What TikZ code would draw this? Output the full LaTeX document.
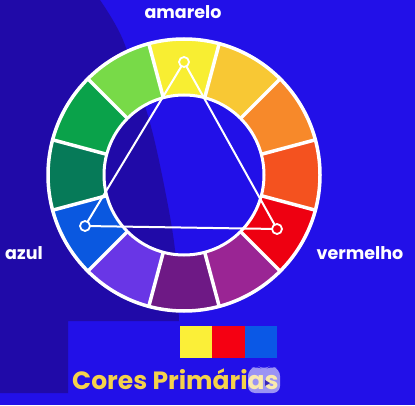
\documentclass[tikz,border=0pt]{standalone}
\usepackage{fontspec}
\setmainfont{Poppins}
\usetikzlibrary{calc}
\definecolor{bgbright}{RGB}{34,16,232}
\definecolor{bgdark}{RGB}{32,10,168}
\definecolor{cY}{HTML}{F8EE32}
\definecolor{cYO}{HTML}{F8C834}
\definecolor{cO}{HTML}{F7892A}
\definecolor{cRO}{HTML}{F4521F}
\definecolor{cR}{HTML}{EE0011}
\definecolor{cRV}{HTML}{9A2594}
\definecolor{cV}{HTML}{6E1985}
\definecolor{cBV}{HTML}{6936E6}
\definecolor{cB}{HTML}{0A58E0}
\definecolor{cBG}{HTML}{067A58}
\definecolor{cG}{HTML}{0AA24A}
\definecolor{cYG}{HTML}{78DA48}
\definecolor{titleyellow}{RGB}{245,210,75}
\definecolor{swY}{HTML}{FBEF38}
\definecolor{swR}{HTML}{F50012}
\definecolor{swB}{HTML}{0A58E6}
\tikzset{
  wlabel/.style={text=white, font=\bfseries\fontsize{17.5}{17.5}\selectfont, inner sep=0pt},
  vtx/.style={circle, draw=white, line width=1.8pt, minimum size=10pt, inner sep=0pt},
  sep/.style={white, line width=3.5pt},
  tri/.style={white, line width=2pt, line join=round},
}
\begin{document}
\begin{tikzpicture}[x=1pt,y=1pt]
\useasboundingbox (0,0) rectangle (415,405);
\fill[bgbright] (0,0) rectangle (415,405);
% darker backdrop on the left
\fill[bgdark] (0,405) -- plot[smooth] coordinates {(100,405) (123,365) (150,282) (165,215) (175,155) (179,84)} -- (68,84) -- (68,12) -- (0,12) -- cycle;
% wheel
\coordinate (C) at (184,230);
\foreach \i/\col in {0/cY,1/cYO,2/cO,3/cRO,4/cR,5/cRV,6/cV,7/cBV,8/cB,9/cBG,10/cG,11/cYG}{
  \pgfmathsetmacro{\a}{90-30*\i}
  \pgfmathsetmacro{\s}{\a-15}
  \pgfmathsetmacro{\e}{\a+15}
  \fill[\col] ($(C)+(\s:80)$) -- ($(C)+(\s:137)$) arc[start angle=\s, end angle=\e, radius=137] -- ($(C)+(\e:80)$) arc[start angle=\e, end angle=\s, radius=80] -- cycle;
}
\foreach \i in {0,...,11}{
  \pgfmathsetmacro{\s}{75-30*\i}
  \draw[sep] ($(C)+(\s:80)$) -- ($(C)+(\s:137)$);
}
\draw[sep] (C) circle[radius=136];
\draw[white, line width=3pt] (C) circle[radius=80];
% triangle of primaries
\coordinate (pY) at (184,343);
\coordinate (pB) at (85,179);
\coordinate (pR) at (277,176);
\draw[tri] (pY) -- (pB) -- (pR) -- cycle;
\node[vtx, fill=cY] (vY) at (pY) {};
\node[vtx, fill=cB] (vB) at (pB) {};
\node[vtx, fill=cR] (vR) at (pR) {};
% labels
\node[wlabel] (lamarelo) at (183,393) {amarelo};
\node[wlabel] (lazul) at (24,152) {azul};
\node[wlabel] (lvermelho) at (360,152) {vermelho};
% swatches
\fill[swY] (180,47) rectangle (212,79);
\fill[swR] (212,47) rectangle (245,79);
\fill[swB] (245,47) rectangle (277,79);
\node[anchor=base west, text=titleyellow, font=\bfseries\fontsize{25}{25}\selectfont, inner sep=0pt] (title) at (72,16) {Cores Primárias};
% translucent overlay blob
\fill[white, opacity=0.55, rounded corners=7pt] (248,12) -- (248,36) -- (258,39) -- (264,35) -- (270,39) -- (280,36) -- (280,12) -- cycle;
\fill[bgdark, opacity=0.8] (265,25) -- (265,19) -- (270,22) -- cycle;
\end{tikzpicture}
\end{document}
